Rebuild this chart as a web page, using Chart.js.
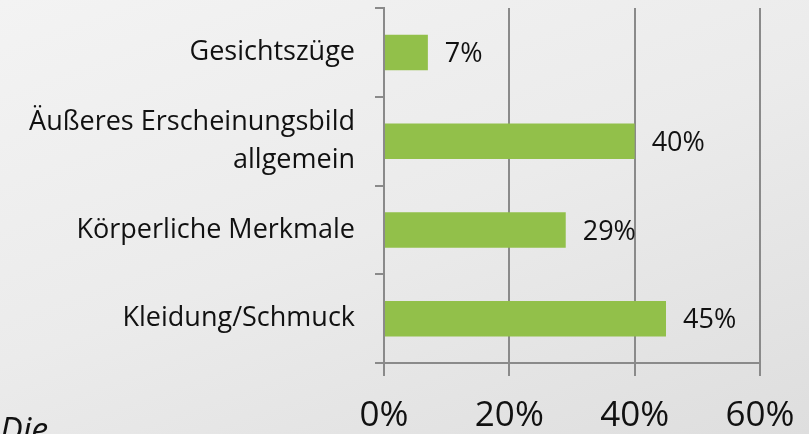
<!DOCTYPE html>
<html>
<head>
<meta charset="utf-8">
<script src="https://cdn.jsdelivr.net/npm/chart.js@4/dist/chart.umd.min.js"></script>
<style>
    html, body {
        margin: 0;
        padding: 0;
    }
    body {
        width: 809px;
        height: 434px;
        overflow: hidden;
        position: relative;
        background: linear-gradient(160deg, #f3f3f3 0%, #ebebeb 50%, #dedede 100%);
    }
    #wrap {
        position: absolute;
        left: 0;
        top: 0;
        width: 809px;
        height: 434px;
    }
    #note {
        position: absolute;
        left: 0px;
        top: 406px;
        font-family: 'Open Sans', sans-serif;
        font-style: italic;
        font-size: 34px;
        color: #111;
    }
</style>
</head>
<body>
<div id="wrap"><canvas id="chart"></canvas></div>
<div id="note">Die</div>
<script>
const categories = [
    'Gesichtszüge',
    ['Äußeres Erscheinungsbild', 'allgemein'],
    'Körperliche Merkmale',
    'Kleidung/Schmuck'
];
const shares = [7, 40, 29, 45];
const tickValues = [0, 20, 40, 60];

const fontFamily = "'Open Sans', sans-serif";
const axisGrey = '#8a8a8a';

// value labels to the right of each bar
const valueLabels = {
    id: 'valueLabels',
    afterDatasetsDraw(chart) {
        const ctx = chart.ctx;
        const meta = chart.getDatasetMeta(0);
        ctx.save();
        ctx.font = '27px ' + fontFamily;
        ctx.fillStyle = '#111';
        ctx.textAlign = 'left';
        ctx.textBaseline = 'middle';
        meta.data.forEach(function (bar, i) {
            ctx.fillText(shares[i] + '%', bar.x + 17, bar.y + 2);
        });
        ctx.restore();
    }
};

document.addEventListener('DOMContentLoaded', function () {
    const canvas = document.getElementById('chart');

    new Chart(canvas, {
        type: 'bar',
        data: {
            labels: categories,
            datasets: [{
                data: shares,
                backgroundColor: '#92c04a',
                borderWidth: 0,
                barPercentage: 0.4,
                categoryPercentage: 1
            }]
        },
        options: {
            indexAxis: 'y',
            responsive: true,
            maintainAspectRatio: false,
            animation: false,
            layout: {
                padding: { top: 8, right: 49, bottom: 0, left: 0 }
            },
            plugins: {
                legend: { display: false },
                tooltip: { enabled: false }
            },
            scales: {
                x: {
                    min: 0,
                    max: 60,
                    afterBuildTicks: function (scale) {
                        scale.ticks = tickValues.map(v => ({ value: v }));
                    },
                    afterFit: function (scale) {
                        scale.height = 71;
                        scale.paddingLeft = 0;
                        scale.paddingRight = 0;
                    },
                    border: { display: true, color: axisGrey, width: 2 },
                    grid: {
                        color: axisGrey,
                        lineWidth: 2,
                        tickLength: 13,
                        drawOnChartArea: true
                    },
                    ticks: {
                        callback: v => v + '%',
                        color: '#111',
                        padding: 19,
                        maxRotation: 0,
                        font: { family: fontFamily, size: 35 }
                    }
                },
                y: {
                    afterFit: function (scale) {
                        scale.width = 384;
                        scale.paddingTop = 0;
                        scale.paddingBottom = 0;
                    },
                    border: { display: true, color: axisGrey, width: 2 },
                    grid: {
                        color: axisGrey,
                        lineWidth: 2,
                        tickLength: 9,
                        offset: true,
                        drawOnChartArea: false
                    },
                    ticks: {
                        color: '#111',
                        padding: 20,
                        font: { family: fontFamily, size: 27, lineHeight: 1.4 }
                    }
                }
            }
        },
        plugins: [valueLabels]
    });
});
</script>
</body>
</html>
